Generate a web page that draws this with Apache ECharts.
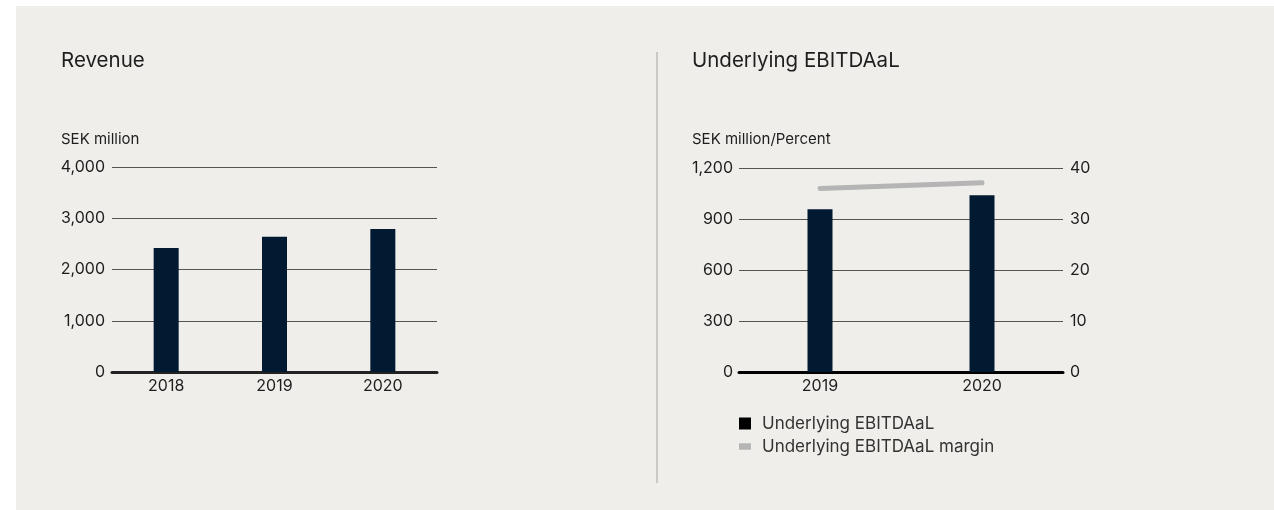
<!DOCTYPE html>
<html>
<head>
<meta charset="utf-8">
<script src="https://cdn.jsdelivr.net/npm/echarts@6/dist/echarts.min.js"></script>
<style>
  html, body { margin: 0; padding: 0; background: #ffffff; }
  #panel { position: absolute; left: 16px; top: 6px; width: 1258px; height: 504px; background: #efeeea; }
  #chart { position: absolute; left: 0; top: 0; width: 1274px; height: 510px; }
</style>
</head>
<body>
<div id="panel"></div>
<div id="chart"></div>
<script>
// Revenue, SEK million
const revenueYears = ['2018', '2019', '2020'];
const revenue = [2420, 2640, 2790];

// Underlying EBITDAaL, SEK million, and its margin in percent
const ebitdaYears = ['2019', '2020'];
const ebitda = [957, 1040];
const ebitdaMargin = [36.0, 37.1];

const FONT = 'Inter, "Noto Sans", sans-serif';
const TEXT = '#1e1e1e';
const NAVY = '#021a31';
const GREY_LINE = '#b5b5b5';

const chart = echarts.init(document.getElementById('chart'), null, { renderer: 'canvas' });

const axisLabel = { color: TEXT, fontFamily: FONT, fontSize: 16 };
const thousands = v => v.toLocaleString('en-US');

const heading = (text, left) => ({
  text, left, top: 50, padding: 0,
  textStyle: { fontFamily: FONT, fontSize: 20.5, fontWeight: 'normal', color: TEXT }
});
const unitLabel = (text, left) => ({
  text, left, top: 132, padding: 0,
  textStyle: { fontFamily: FONT, fontSize: 15, fontWeight: 'normal', color: TEXT }
});

chart.setOption({
  backgroundColor: 'transparent',
  animation: false,
  textStyle: { fontFamily: FONT },
  title: [
    heading('Revenue', 61),
    unitLabel('SEK million', 61),
    heading('Underlying EBITDAaL', 692),
    unitLabel('SEK million/Percent', 692)
  ],
  graphic: [
    { type: 'line', shape: { x1: 657, y1: 52, x2: 657, y2: 483 }, style: { stroke: '#c9c9c6', lineWidth: 2 } }
  ],
  legend: {
    left: 739, top: 415, orient: 'vertical', padding: 0,
    itemWidth: 12, itemHeight: 12, itemGap: 6,
    symbolKeepAspect: true,
    textStyle: { fontFamily: FONT, fontSize: 17, color: '#333', lineHeight: 17, padding: [0, 0, 0, 6] },
    data: [
      { name: 'Underlying EBITDAaL', icon: 'rect', itemStyle: { color: '#000' } },
      { name: 'Underlying EBITDAaL margin', icon: 'path://M0,0 L13,0 L13,7 L0,7 Z', itemStyle: { color: GREY_LINE } }
    ]
  },
  grid: [
    { left: 112, right: 837, top: 167, bottom: 138 },
    { left: 739, right: 211, top: 168, bottom: 138 }
  ],
  xAxis: [
    {
      gridIndex: 0, type: 'category', data: revenueYears,
      axisLine: { lineStyle: { color: '#222', width: 3 } },
      axisTick: { show: false },
      axisLabel: Object.assign({ margin: 6 }, axisLabel)
    },
    {
      gridIndex: 1, type: 'category', data: ebitdaYears,
      axisLine: { lineStyle: { color: '#000', width: 3 } },
      axisTick: { show: false },
      axisLabel: Object.assign({ margin: 6 }, axisLabel)
    }
  ],
  yAxis: [
    {
      gridIndex: 0, type: 'value', min: 0, max: 4000, interval: 1000,
      axisLine: { show: false }, axisTick: { show: false },
      axisLabel: Object.assign({ margin: 7, formatter: thousands }, axisLabel),
      splitLine: { lineStyle: { color: '#555', width: 1 } }
    },
    {
      gridIndex: 1, type: 'value', min: 0, max: 1200, interval: 300,
      axisLine: { show: false }, axisTick: { show: false },
      axisLabel: Object.assign({ margin: 6, formatter: thousands }, axisLabel),
      splitLine: { lineStyle: { color: '#555', width: 1 } }
    },
    {
      gridIndex: 1, type: 'value', position: 'right', min: 0, max: 40, interval: 10,
      axisLine: { show: false }, axisTick: { show: false },
      axisLabel: Object.assign({ margin: 7 }, axisLabel),
      splitLine: { show: false }
    }
  ],
  series: [
    {
      name: 'Revenue', type: 'bar', xAxisIndex: 0, yAxisIndex: 0,
      data: revenue, barWidth: 25, itemStyle: { color: NAVY }, z: 1
    },
    {
      name: 'Underlying EBITDAaL', type: 'bar', xAxisIndex: 1, yAxisIndex: 1,
      data: ebitda, barWidth: 25, itemStyle: { color: NAVY }, z: 1
    },
    {
      name: 'Underlying EBITDAaL margin', type: 'line', xAxisIndex: 1, yAxisIndex: 2,
      data: ebitdaMargin, symbol: 'none', itemStyle: { color: GREY_LINE },
      lineStyle: { color: GREY_LINE, width: 5, cap: 'round' }, z: 3
    }
  ]
});
</script>
</body>
</html>
